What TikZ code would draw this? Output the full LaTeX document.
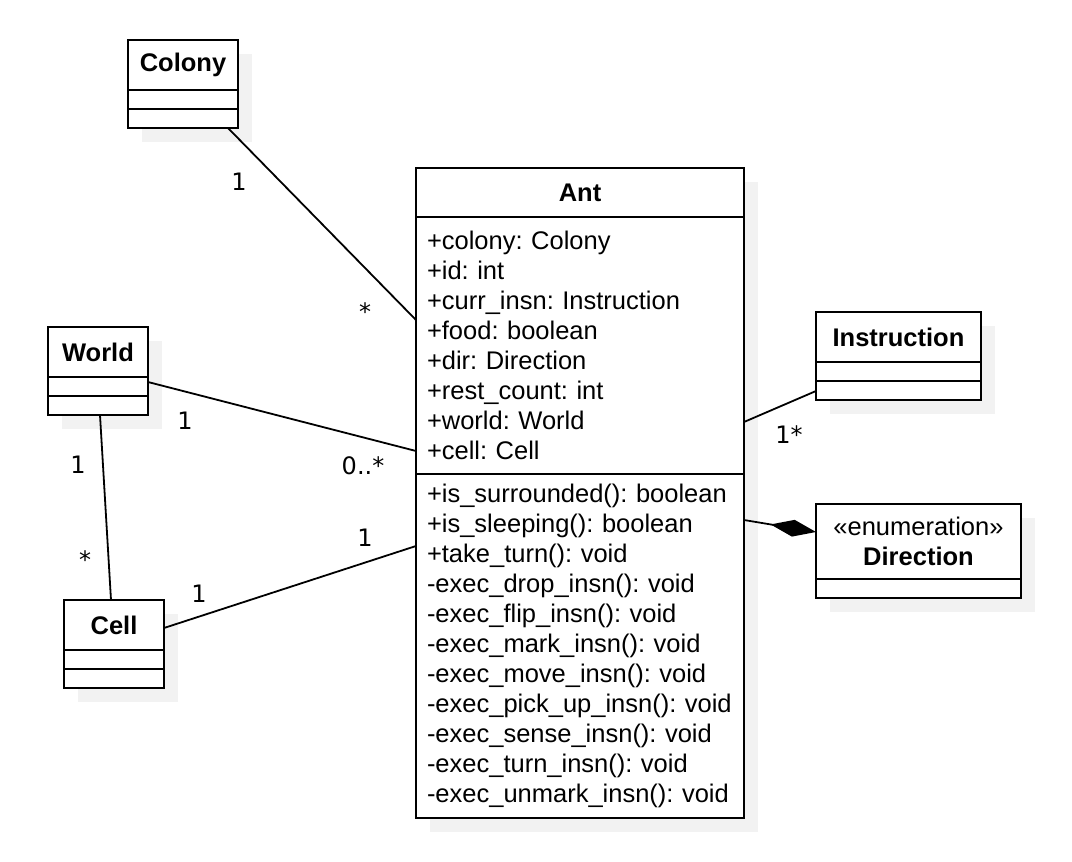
\documentclass[tikz,border=0pt]{standalone}
\usepackage{fontspec}
\setmainfont{Liberation Sans}
\newfontfamily\multfont{DejaVu Sans}
\usetikzlibrary{positioning, shadows, arrows.meta}
\frenchspacing
\tikzset{
  umlshadow/.style={drop shadow={shadow xshift=14pt, shadow yshift=-14pt,
                    fill=black!5, opacity=1}},
  umlbox/.style={draw, line width=2pt, fill=white, outer sep=0pt, umlshadow},
  umlname/.style={umlbox, minimum height=50, anchor=north,
                  font=\fontsize{25.5}{30}\selectfont\bfseries},
  umlpart/.style={umlbox, minimum height=19, inner sep=0pt},
  umllist/.style={umlbox, text width=306pt, align=left, inner xsep=11pt,
                  inner ysep=0pt, font=\fontsize{25.5}{30}\selectfont},
  umllink/.style={draw, line width=1.8pt},
  mult/.style={anchor=base, inner sep=0pt,
               font=\multfont\fontsize{24}{28}\selectfont}
}

\begin{document}
\begin{tikzpicture}[x=1pt, y=-1pt]
  \useasboundingbox (0,0) rectangle (1072,862);
  % name/text/centre x/top/width
  \foreach \n/\t/\cx/\top/\w in {%
      colony/Colony/183/40/110, world/World/98/327/100,
      cell/Cell/114/600/100, instr/Instruction/898.5/312/165}
    { \node[umlname, minimum width=\w] (\n) at (\cx, \top) {\t};
      \node[umlpart, minimum width=\w, below=0pt of \n] (\n-a) {};
      \node[umlpart, minimum width=\w, below=0pt of \n-a] (\n-b) {}; }
  % the enumeration
  \node[umlname, minimum width=205, minimum height=75, align=center]
    (dir) at (918.5, 504) {{\mdseries «enumeration»}\\Direction};
  \node[umlpart, minimum width=205, below=0pt of dir] (dir-a) {};
  % the ant
  \node[umlname, minimum width=328, minimum height=49] (ant) at (580, 168) {Ant};
  \node[umllist, minimum height=257, below=0pt of ant] (ant-a)
    {+colony: Colony\\+id: int\\+curr\_insn: Instruction\\+food: boolean\\
     +dir: Direction\\+rest\_count: int\\+world: World\\+cell: Cell};
  \node[umllist, minimum height=344, below=0pt of ant-a] (ant-m)
    {+is\_surrounded(): boolean\\+is\_sleeping(): boolean\\+take\_turn(): void\\
     -exec\_drop\_insn(): void\\-exec\_flip\_insn(): void\\
     -exec\_mark\_insn(): void\\-exec\_move\_insn(): void\\
     -exec\_pick\_up\_insn(): void\\-exec\_sense\_insn(): void\\
     -exec\_turn\_insn(): void\\-exec\_unmark\_insn(): void};
  % associations
  \draw[umllink] ([xshift=-10pt]colony-b.south east) -- ([yshift=-103pt]ant-a.north west);
  \draw[umllink] ([yshift=-5pt]world-a.north east) -- ([yshift=23pt]ant-a.south west);
  \draw[umllink] ([xshift=2pt]world-b.south) -- ([xshift=-3pt]cell.north);
  \draw[umllink] ([yshift=-28pt]cell.north east) -- ([yshift=-72pt]ant-m.north west);
  \draw[umllink] ([yshift=52pt]ant-a.south east) -- ([yshift=-10pt]instr-b.north west);
  \draw[umllink, -{Diamond[length=46pt, width=17pt]}]
    ([yshift=-46pt]ant-m.north east) -- ([yshift=-28pt]dir.north west);
  % multiplicities
  \node[mult] (m-colony) at (239, 190) {1};
  \node[mult] (m-antcolony) at (365, 320) {*};
  \node[mult] (m-world) at (185, 429) {1};
  \node[mult] (m-antworld) at (363, 474) {0..*};
  \node[mult] (m-worldcell) at (78, 473) {1};
  \node[mult] (m-cellworld) at (85, 568) {*};
  \node[mult] (m-cell) at (199, 602) {1};
  \node[mult] (m-antcell) at (365, 546) {1};
  \node[mult] (m-instr) at (789, 443) {1*};
\end{tikzpicture}
\end{document}
